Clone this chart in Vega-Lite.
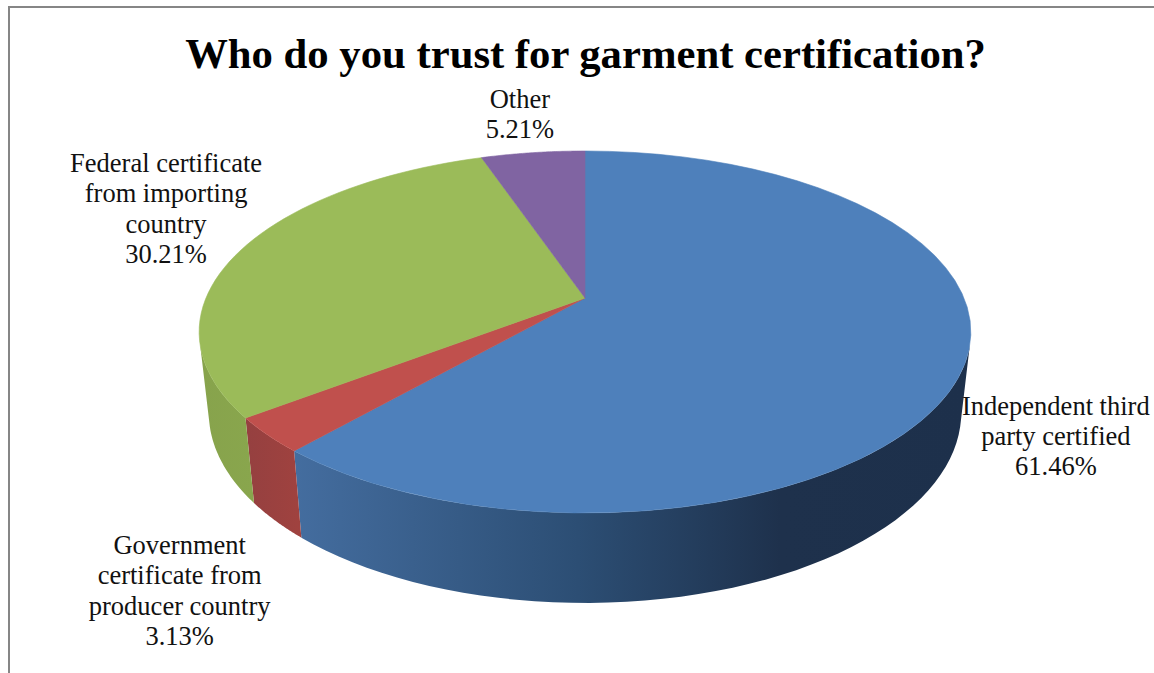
{
  "$schema": "https://vega.github.io/schema/vega-lite/v6.json",
  "width": 1147,
  "height": 670,
  "autosize": "none",
  "padding": {"left": 9, "top": 7, "right": 0, "bottom": 0},
  "background": "white",
  "config": {"view": {"stroke": "#868686", "strokeWidth": 2}},
  "title": {
    "text": "Who do you trust for garment certification?",
    "font": "Liberation Serif",
    "fontWeight": "bold",
    "fontSize": 42.7,
    "color": "black",
    "anchor": "middle",
    "frame": "group",
    "offset": -70,
    "dx": 3
  },
  "data": {
    "values": [
      {"ord": 1, "slice": "Independent third\nparty certified", "pct": 61.46},
      {"ord": 2, "slice": "Government\ncertificate from\nproducer country", "pct": 3.13},
      {"ord": 3, "slice": "Federal certificate\nfrom importing\ncountry", "pct": 30.21},
      {"ord": 4, "slice": "Other", "pct": 5.21}
    ]
  },
  "transform": [
    {"stack": "pct", "groupby": [], "sort": [{"field": "ord", "order": "ascending"}], "as": ["p0", "p1"]}
  ],
  "encoding": {
    "x": {"field": "px", "type": "quantitative", "axis": null, "scale": {"domain": [-576, 571], "nice": false, "zero": false}},
    "y": {"field": "py", "type": "quantitative", "axis": null, "scale": {"domain": [-379, 291], "nice": false, "zero": false}}
  },
  "layer": [
    {
      "transform": [
        {"calculate": "max(datum.p0, 29.17)", "as": "a"},
        {"calculate": "min(datum.p1, 70.83)", "as": "b"},
        {"filter": "datum.b > datum.a"},
        {"calculate": "sequence(0, 51)", "as": "i"},
        {"flatten": ["i"]},
        {"calculate": "[0, 1]", "as": "side"},
        {"flatten": ["side"]},
        {"calculate": "2 * PI * (datum.a + (datum.i / 50) * (datum.b - datum.a)) / 100.01", "as": "phi"},
        {"calculate": "1 + 0.1878 * cos(datum.phi)", "as": "den"},
        {"calculate": "(datum.side ? 0.975 : 1) * 379 * sin(datum.phi) / datum.den", "as": "px"},
        {"calculate": "174.6 * cos(datum.phi) / datum.den", "as": "ty"},
        {"calculate": "datum.side ? 1.0526 * datum.ty - 78.7 : datum.ty", "as": "py"},
        {"calculate": "datum.side ? 200 - datum.i : datum.i", "as": "seq"}
      ],
      "encoding": {"order": {"field": "seq", "type": "quantitative"}},
      "layer": [
        {
          "transform": [{"filter": "datum.ord == 1"}],
          "mark": {
            "type": "line",
            "strokeWidth": 0,
            "fill": {
              "gradient": "linear", "x1": 0, "x2": 1, "y1": 0, "y2": 0,
              "stops": [
                {"offset": 0, "color": "#446d9f"},
                {"offset": 0.42, "color": "#2c4e74"},
                {"offset": 0.72, "color": "#1e314c"},
                {"offset": 1, "color": "#1d304b"}
              ]
            }
          }
        },
        {
          "transform": [{"filter": "datum.ord == 2"}],
          "mark": {
            "type": "line",
            "strokeWidth": 0,
            "fill": {
              "gradient": "linear", "x1": 0, "x2": 1, "y1": 0, "y2": 0,
              "stops": [{"offset": 0, "color": "#954040"}, {"offset": 1, "color": "#a0423f"}]
            }
          }
        },
        {
          "transform": [{"filter": "datum.ord == 3"}],
          "mark": {
            "type": "line",
            "strokeWidth": 0,
            "fill": {
              "gradient": "linear", "x1": 0, "x2": 1, "y1": 0, "y2": 0,
              "stops": [{"offset": 0, "color": "#87a34c"}, {"offset": 1, "color": "#89a64d"}]
            }
          }
        }
      ]
    },
    {
      "transform": [
        {"calculate": "sequence(0, 53)", "as": "i"},
        {"flatten": ["i"]},
        {"calculate": "2 * PI * (datum.p0 + (min(datum.i, 50) / 50) * (datum.p1 - datum.p0)) / 100.01", "as": "phi0"},
        {"calculate": "datum.i == 52 ? 2 * PI * datum.p0 / 100.01 : datum.phi0", "as": "phi"},
        {"calculate": "1 + 0.1878 * cos(datum.phi)", "as": "den"},
        {"calculate": "datum.i == 51 ? 0 : 379 * sin(datum.phi) / datum.den", "as": "px"},
        {"calculate": "datum.i == 51 ? 0 : 174.6 * cos(datum.phi) / datum.den", "as": "py"}
      ],
      "mark": {"type": "line", "filled": true, "strokeWidth": 0.6, "strokeJoin": "round"},
      "encoding": {
        "order": {"field": "i", "type": "quantitative"},
        "color": {
          "field": "ord", "type": "nominal", "legend": null,
          "scale": {"domain": [1, 2, 3, 4], "range": ["#4e80bb", "#c0504d", "#9bbb59", "#8064a2"]}
        },
        "stroke": {
          "field": "ord", "type": "nominal", "legend": null,
          "scale": {"domain": [1, 2, 3, 4], "range": ["#4e80bb", "#c0504d", "#9bbb59", "#8064a2"]}
        }
      }
    },
    {
      "transform": [
        {"calculate": "PI * (datum.p0 + datum.p1) / 100.01", "as": "phi"},
        {"calculate": "1 + 0.1878 * cos(datum.phi)", "as": "den"},
        {"calculate": "379 * sin(datum.phi) / datum.den", "as": "px"},
        {"calculate": "174.6 * cos(datum.phi) / datum.den", "as": "py"},
        {"calculate": "datum.slice + '\\n' + format(datum.pct, '.2f') + '%'", "as": "caption"}
      ],
      "encoding": {
        "text": {"field": "caption", "type": "nominal"}
      },
      "layer": [
        {
          "transform": [{"filter": "datum.ord == 1"}],
          "mark": {"type": "text", "font": "Liberation Serif", "fontSize": 26.5, "color": "#111", "lineBreak": "\n", "lineHeight": 30.3, "align": "center", "baseline": "middle", "dx": 91, "dy": 43}
        },
        {
          "transform": [{"filter": "datum.ord == 2"}],
          "mark": {"type": "text", "font": "Liberation Serif", "fontSize": 26.5, "color": "#111", "lineBreak": "\n", "lineHeight": 30.3, "align": "center", "baseline": "middle", "dx": -88, "dy": 111}
        },
        {
          "transform": [{"filter": "datum.ord == 3"}],
          "mark": {"type": "text", "font": "Liberation Serif", "fontSize": 26.5, "color": "#111", "lineBreak": "\n", "lineHeight": 30.3, "align": "center", "baseline": "middle", "dx": -75, "dy": -86}
        },
        {
          "transform": [{"filter": "datum.ord == 4"}],
          "mark": {"type": "text", "font": "Liberation Serif", "fontSize": 26.5, "color": "#111", "lineBreak": "\n", "lineHeight": 30.3, "align": "center", "baseline": "middle", "dx": -13, "dy": -53}
        }
      ]
    }
  ]
}
